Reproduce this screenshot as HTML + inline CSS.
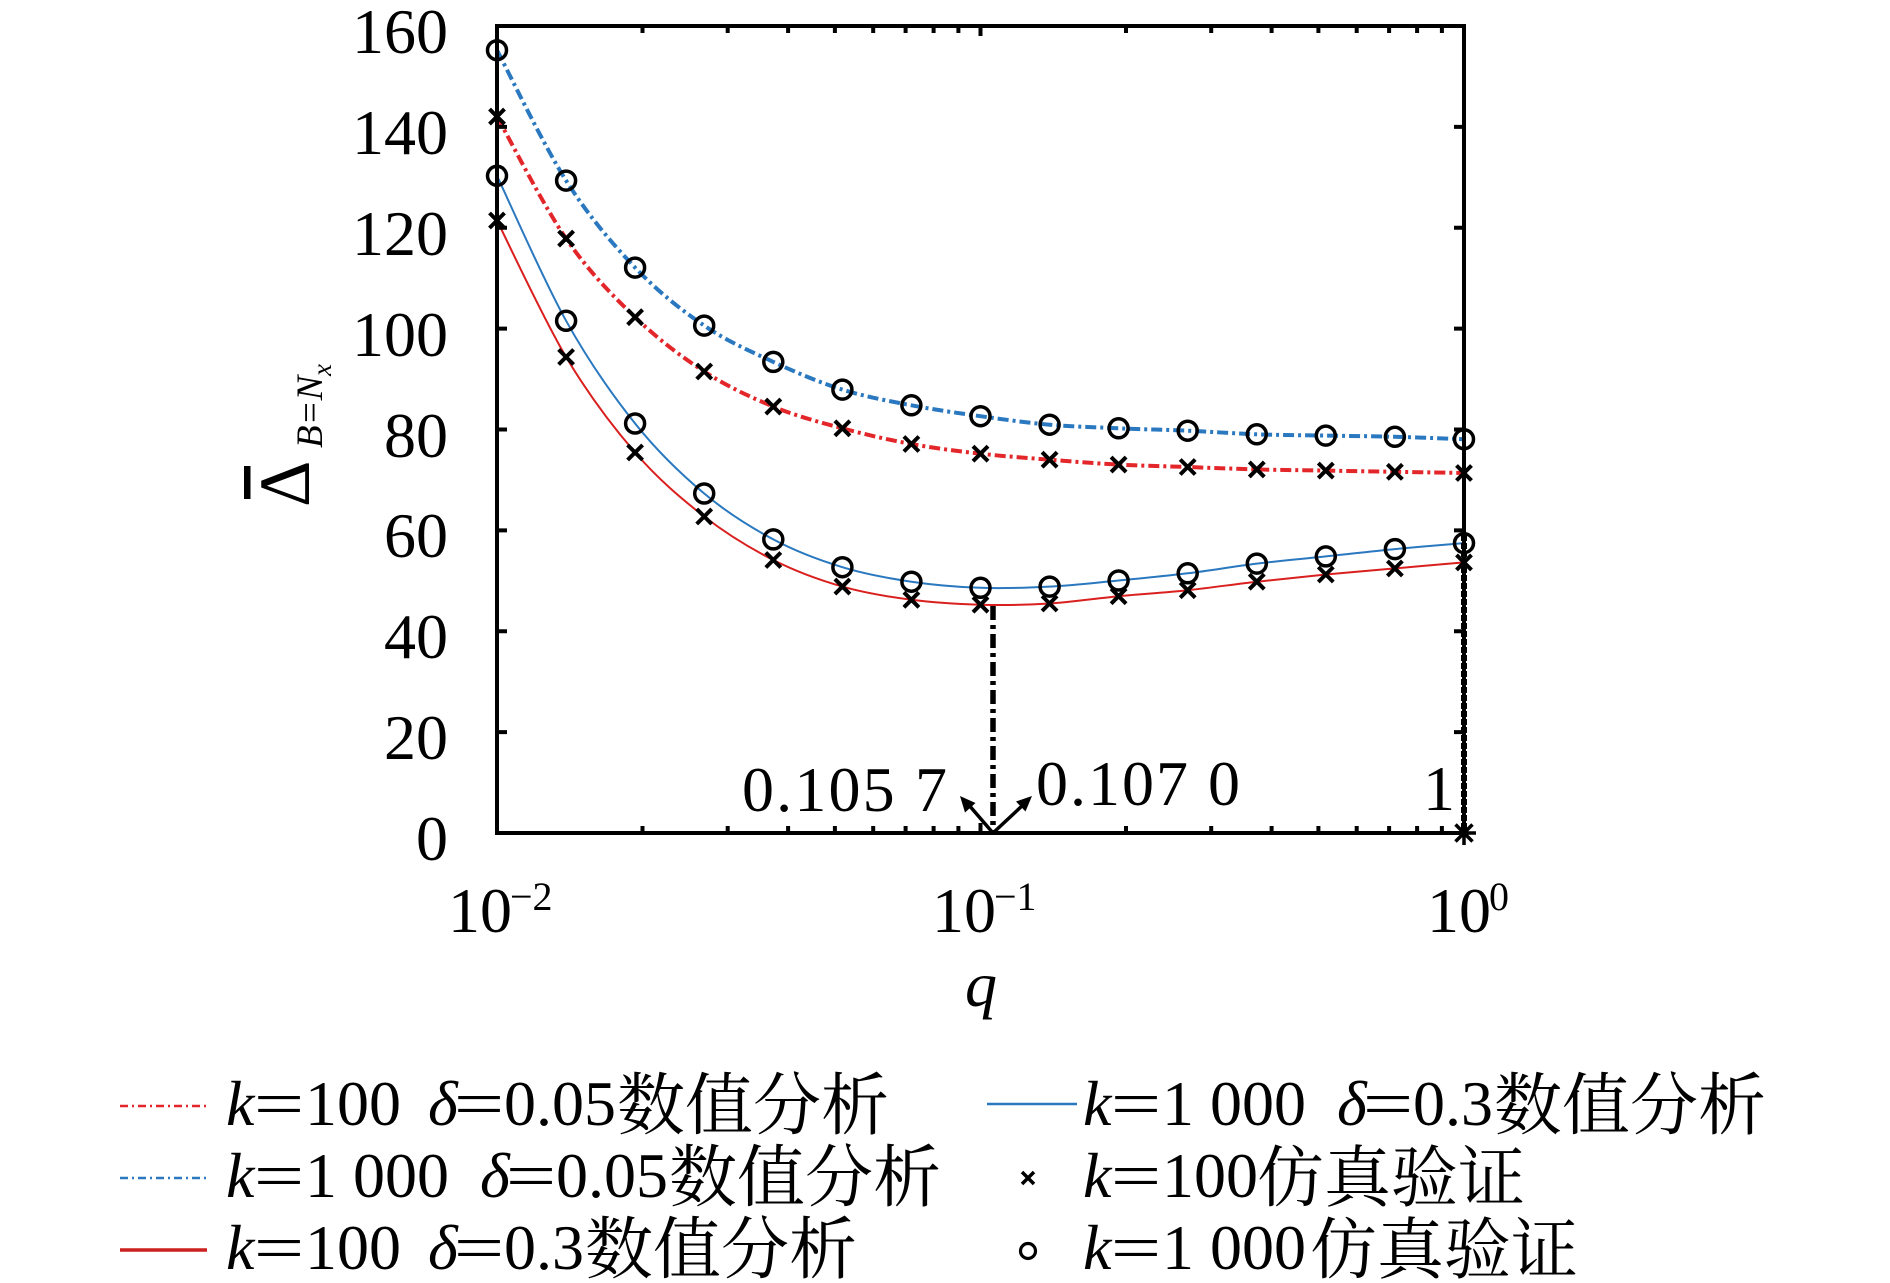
<!DOCTYPE html>
<html><head><meta charset="utf-8"><style>
html,body{margin:0;padding:0;background:#fff;}
svg{display:block;}
text{font-family:"Liberation Serif","Noto Serif CJK SC",serif;fill:#000;}
.cj{font-family:"Liberation Serif","Noto Serif CJK SC","Noto Sans CJK SC",serif;}
</style></head><body>
<svg width="1890" height="1283" viewBox="0 0 1890 1283" xmlns="http://www.w3.org/2000/svg">
<defs>
<g id="o"><circle r="9.5" fill="none" stroke="#000" stroke-width="3.5"/></g>
<g id="x"><path d="M-7.5,-7.5L7.5,7.5M-7.5,7.5L7.5,-7.5" stroke="#000" stroke-width="4" fill="none"/></g>
</defs>
<rect width="1890" height="1283" fill="#fff"/>

<!-- curves -->
<path id="cRS" fill="none" stroke="#d9201f" stroke-width="2" d="M497,220.5 L566.1,357 L635.1,452.5 L704.2,516.5 L773.3,560 L842.4,586.6 L911.4,599.8 L980.5,604.7 L1049.6,603.5 L1118.6,596.2 L1187.7,590.2 L1256.8,581.7 L1325.8,574.5 L1394.9,568.4 L1464,562.4"/>
<path id="cBS" fill="none" stroke="#2a78bf" stroke-width="2" d="M497,175.8 L566.1,320.8 L635.1,423.5 L704.2,493.5 L773.3,539.4 L842.4,567.2 L911.4,581.7 L980.5,587.8 L1049.6,586.6 L1118.6,580.5 L1187.7,573.3 L1256.8,563.6 L1325.8,556.4 L1394.9,549.1 L1464,543.1"/>
<path id="cRD" fill="none" stroke="#e3262a" stroke-width="4" stroke-dasharray="11 4 3 4" d="M497,116.6 L566.1,238.6 L635.1,317.2 L704.2,371.5 L773.3,406.6 L842.4,428.3 L911.4,444 L980.5,453.7 L1049.6,459.7 L1118.6,464.6 L1187.7,467 L1256.8,469.4 L1325.8,470.6 L1394.9,471.8 L1464,473"/>
<path id="cBD" fill="none" stroke="#2a78bf" stroke-width="4" stroke-dasharray="11 4 3 4" d="M497,50.2 L566.1,180.6 L635.1,267.6 L704.2,325.6 L773.3,361.9 L842.4,389.6 L911.4,405.3 L980.5,416.2 L1049.6,424.7 L1118.6,428.3 L1187.7,430.7 L1256.8,434.3 L1325.8,435.6 L1394.9,436.8 L1464,439.2"/>

<!-- axes box -->
<rect x="497" y="26" width="967" height="807" fill="none" stroke="#000" stroke-width="4"/>
<!-- y ticks -->
<path stroke="#000" stroke-width="4" fill="none" d="
M497,126.9h10 M497,227.7h10 M497,328.6h10 M497,429.5h10 M497,530.4h10 M497,631.2h10 M497,732.1h10
M1464,126.9h-10 M1464,227.7h-10 M1464,328.6h-10 M1464,429.5h-10 M1464,530.4h-10 M1464,631.2h-10 M1464,732.1h-10"/>
<!-- x ticks -->
<path stroke="#000" stroke-width="4" fill="none" d="
M642.5,833v-7 M727.7,833v-7 M788.1,833v-7 M834.9,833v-7 M873.2,833v-7 M905.6,833v-7 M933.6,833v-7 M958.4,833v-7 M980.5,833v-10
M1126,833v-7 M1211.2,833v-7 M1271.6,833v-7 M1318.4,833v-7 M1356.7,833v-7 M1389.1,833v-7 M1417.1,833v-7 M1441.9,833v-7
M642.5,26v7 M727.7,26v7 M788.1,26v7 M834.9,26v7 M873.2,26v7 M905.6,26v7 M933.6,26v7 M958.4,26v7 M980.5,26v10
M1126,26v7 M1211.2,26v7 M1271.6,26v7 M1318.4,26v7 M1356.7,26v7 M1389.1,26v7 M1417.1,26v7 M1441.9,26v7"/>

<!-- vertical marker lines -->
<line x1="993" y1="606" x2="993" y2="833" stroke="#000" stroke-width="5.5" stroke-dasharray="14 5 4 5"/>
<line x1="1464" y1="535" x2="1464" y2="833" stroke="#000" stroke-width="6" stroke-dasharray="6 2"/>
<!-- arrows -->
<path d="M993,833 L968,804 M993,833 L1023,805" stroke="#000" stroke-width="3.5" fill="none"/>
<polygon points="960,796 975.5,803 965,812.5" fill="#000"/>
<polygon points="1032,796 1025.5,811.5 1016,801.5" fill="#000"/>
<!-- asterisk -->
<path d="M1464,821v24 M1452,833h24 M1455.5,824.5l17,17 M1455.5,841.5l17,-17" stroke="#000" stroke-width="3.5"/>

<!-- markers: blue dash-dot circles -->
<use href="#o" x="497" y="50.2"/><use href="#o" x="566.1" y="180.6"/><use href="#o" x="635.1" y="267.6"/><use href="#o" x="704.2" y="325.6"/><use href="#o" x="773.3" y="361.9"/><use href="#o" x="842.4" y="389.6"/><use href="#o" x="911.4" y="405.3"/><use href="#o" x="980.5" y="416.2"/><use href="#o" x="1049.6" y="424.7"/><use href="#o" x="1118.6" y="428.3"/><use href="#o" x="1187.7" y="430.7"/><use href="#o" x="1256.8" y="434.3"/><use href="#o" x="1325.8" y="435.6"/><use href="#o" x="1394.9" y="436.8"/><use href="#o" x="1464" y="439.2"/>
<!-- red dash-dot crosses -->
<use href="#x" x="497" y="116.6"/><use href="#x" x="566.1" y="238.6"/><use href="#x" x="635.1" y="317.2"/><use href="#x" x="704.2" y="371.5"/><use href="#x" x="773.3" y="406.6"/><use href="#x" x="842.4" y="428.3"/><use href="#x" x="911.4" y="444"/><use href="#x" x="980.5" y="453.7"/><use href="#x" x="1049.6" y="459.7"/><use href="#x" x="1118.6" y="464.6"/><use href="#x" x="1187.7" y="467"/><use href="#x" x="1256.8" y="469.4"/><use href="#x" x="1325.8" y="470.6"/><use href="#x" x="1394.9" y="471.8"/><use href="#x" x="1464" y="473"/>
<!-- blue solid circles -->
<use href="#o" x="497" y="175.8"/><use href="#o" x="566.1" y="320.8"/><use href="#o" x="635.1" y="423.5"/><use href="#o" x="704.2" y="493.5"/><use href="#o" x="773.3" y="539.4"/><use href="#o" x="842.4" y="567.2"/><use href="#o" x="911.4" y="581.7"/><use href="#o" x="980.5" y="587.8"/><use href="#o" x="1049.6" y="586.6"/><use href="#o" x="1118.6" y="580.5"/><use href="#o" x="1187.7" y="573.3"/><use href="#o" x="1256.8" y="563.6"/><use href="#o" x="1325.8" y="556.4"/><use href="#o" x="1394.9" y="549.1"/><use href="#o" x="1464" y="543.1"/>
<!-- red solid crosses -->
<use href="#x" x="497" y="220.5"/><use href="#x" x="566.1" y="357"/><use href="#x" x="635.1" y="452.5"/><use href="#x" x="704.2" y="516.5"/><use href="#x" x="773.3" y="560"/><use href="#x" x="842.4" y="586.6"/><use href="#x" x="911.4" y="599.8"/><use href="#x" x="980.5" y="604.7"/><use href="#x" x="1049.6" y="603.5"/><use href="#x" x="1118.6" y="596.2"/><use href="#x" x="1187.7" y="590.2"/><use href="#x" x="1256.8" y="581.7"/><use href="#x" x="1325.8" y="574.5"/><use href="#x" x="1394.9" y="568.4"/><use href="#x" x="1464" y="562.4"/>

<!-- y tick labels -->
<g font-size="64" text-anchor="end">
<text x="448" y="53">160</text>
<text x="448" y="154">140</text>
<text x="448" y="255">120</text>
<text x="448" y="356">100</text>
<text x="448" y="457">80</text>
<text x="448" y="557">60</text>
<text x="448" y="658">40</text>
<text x="448" y="759">20</text>
<text x="448" y="860">0</text>
</g>
<!-- x tick labels -->
<g font-size="64">
<text x="448" y="932">10</text><text x="510" y="910" font-size="40">−2</text>
<text x="932" y="932">10</text><text x="994" y="910" font-size="40">−1</text>
<text x="1427" y="932">10</text><text x="1489" y="910" font-size="40">0</text>
</g>
<!-- annotation labels -->
<g font-size="64">
<text x="742" y="811" textLength="205" lengthAdjust="spacing">0.105 7</text>
<text x="1036" y="805" textLength="204" lengthAdjust="spacing">0.107 0</text>
<text x="1423" y="810">1</text>
</g>
<!-- axis labels -->
<text x="965" y="1006" font-size="64" font-style="italic">q</text>
<text transform="translate(309,507) rotate(-90)" font-size="72">Δ</text>
<rect x="244" y="466" width="6.5" height="33" fill="#000"/>
<text transform="translate(322,448) rotate(-90)" font-size="37" font-style="italic">B=N</text>
<text transform="translate(331,376) rotate(-90)" font-size="27" font-style="italic">x</text>

<!-- legend -->
<line x1="120" y1="1106" x2="207" y2="1106" stroke="#e3262a" stroke-width="2.5" stroke-dasharray="8 4 2 4"/>
<line x1="120" y1="1178" x2="207" y2="1178" stroke="#2a78bf" stroke-width="2.5" stroke-dasharray="8 4 2 4"/>
<line x1="120" y1="1250" x2="207" y2="1250" stroke="#cc1f1f" stroke-width="3.5"/>
<line x1="987" y1="1104" x2="1077" y2="1104" stroke="#2a78bf" stroke-width="2.5"/>
<path d="M1022,1172L1034,1184M1022,1184L1034,1172" stroke="#000" stroke-width="3.5"/>
<circle cx="1028" cy="1251" r="7.5" fill="none" stroke="#000" stroke-width="3.2"/>

<g font-size="64">
<!-- row1 left -->
<text x="226" y="1125" font-style="italic">k</text>
<text transform="translate(279,1125) scale(1.4,1)" text-anchor="middle">=</text>
<text x="305" y="1125">100</text>
<text x="428" y="1125" font-style="italic">δ</text>
<text transform="translate(479,1125) scale(1.4,1)" text-anchor="middle">=</text>
<text x="504" y="1125">0.05</text>
<text class="cj" x="617" y="1129" font-size="68">数值分析</text>
<!-- row2 left -->
<text x="226" y="1197" font-style="italic">k</text>
<text transform="translate(279,1197) scale(1.4,1)" text-anchor="middle">=</text>
<text x="305" y="1197">1 000</text>
<text x="480" y="1197" font-style="italic">δ</text>
<text transform="translate(531,1197) scale(1.4,1)" text-anchor="middle">=</text>
<text x="556" y="1197">0.05</text>
<text class="cj" x="669" y="1201" font-size="68">数值分析</text>
<!-- row3 left -->
<text x="226" y="1269" font-style="italic">k</text>
<text transform="translate(279,1269) scale(1.4,1)" text-anchor="middle">=</text>
<text x="305" y="1269">100</text>
<text x="428" y="1269" font-style="italic">δ</text>
<text transform="translate(479,1269) scale(1.4,1)" text-anchor="middle">=</text>
<text x="504" y="1269">0.3</text>
<text class="cj" x="585" y="1273" font-size="68">数值分析</text>
<!-- row1 right -->
<text x="1083" y="1125" font-style="italic">k</text>
<text transform="translate(1136,1125) scale(1.4,1)" text-anchor="middle">=</text>
<text x="1162" y="1125">1 000</text>
<text x="1337" y="1125" font-style="italic">δ</text>
<text transform="translate(1388,1125) scale(1.4,1)" text-anchor="middle">=</text>
<text x="1413" y="1125">0.3</text>
<text class="cj" x="1494" y="1129" font-size="68">数值分析</text>
<!-- row2 right -->
<text x="1083" y="1197" font-style="italic">k</text>
<text transform="translate(1136,1197) scale(1.4,1)" text-anchor="middle">=</text>
<text x="1162" y="1197">100</text>
<text class="cj" x="1257" y="1201" font-size="67">仿真验证</text>
<!-- row3 right -->
<text x="1083" y="1269" font-style="italic">k</text>
<text transform="translate(1136,1269) scale(1.4,1)" text-anchor="middle">=</text>
<text x="1162" y="1269">1 000</text>
<text class="cj" x="1310" y="1273" font-size="67">仿真验证</text>
</g>
</svg>
<script>
(function(){
var X=[497,566.1,635.1,704.2,773.3,842.4,911.4,980.5,1049.6,1118.6,1187.7,1256.8,1325.8,1394.9,1464];
var D={
cRS:[220.5,357,452.5,516.5,560,586.6,599.8,604.7,603.5,596.2,590.2,581.7,574.5,568.4,562.4],
cBS:[175.8,320.8,423.5,493.5,539.4,567.2,581.7,587.8,586.6,580.5,573.3,563.6,556.4,549.1,543.1],
cRD:[116.6,238.6,317.2,371.5,406.6,428.3,444,453.7,459.7,464.6,467,469.4,470.6,471.8,473],
cBD:[50.2,180.6,267.6,325.6,361.9,389.6,405.3,416.2,424.7,428.3,430.7,434.3,435.6,436.8,439.2]};
for(var k in D){var Y=D[k],n=X.length,d='M'+X[0]+','+Y[0];
for(var i=0;i<n-1;i++){var i0=Math.max(i-1,0),i3=Math.min(i+2,n-1);
var c1x=X[i]+(X[i+1]-X[i0])/6,c1y=Y[i]+(Y[i+1]-Y[i0])/6;
var c2x=X[i+1]-(X[i3]-X[i])/6,c2y=Y[i+1]-(Y[i3]-Y[i])/6;
d+=' C'+c1x.toFixed(1)+','+c1y.toFixed(1)+' '+c2x.toFixed(1)+','+c2y.toFixed(1)+' '+X[i+1]+','+Y[i+1];}
var el=document.getElementById(k);if(el)el.setAttribute('d',d);}
})();
</script>
</body></html>
